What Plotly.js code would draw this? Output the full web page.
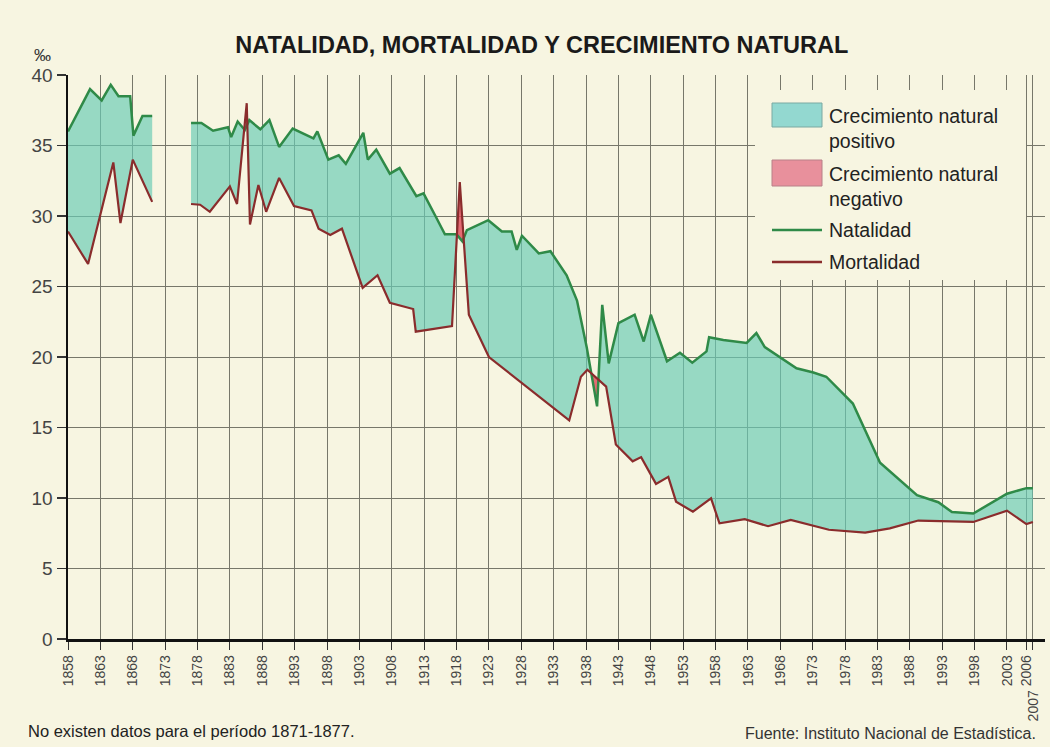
<!DOCTYPE html>
<html>
<head>
<meta charset="utf-8">
<script src="https://cdn.plot.ly/plotly-3.0.1.min.js"></script>
<style>
  html, body { margin: 0; padding: 0; background: #f7f5e1; }
  #chart { width: 1050px; height: 747px; }
</style>
</head>
<body>
<div id="chart"></div>
<script>
// ---- Data (null marks the 1871-1877 gap) ----
const natYears = [1858, 1861.4, 1863.2, 1864.6, 1865.8, 1867.6, 1868.1, 1869.5, 1871,
  1874,
  1877, 1878.6, 1880.4, 1882.7, 1883.2, 1884.2, 1885.3, 1886, 1887.7, 1889.1, 1890.6, 1892.7,
  1895.9, 1896.5, 1898.2, 1899.8, 1900.9, 1903.6, 1904.3, 1905.6, 1907.7, 1909.2, 1911.8, 1912.9,
  1914.8, 1916.2, 1918.0, 1918.9, 1919.6, 1922.9, 1925.0, 1926.5, 1927.3, 1928.1, 1930.7, 1932.5,
  1935.0, 1936.6, 1938.1, 1939.7, 1940.5, 1941.5, 1943.0, 1945.5, 1946.9, 1948.0, 1950.5, 1952.5,
  1954.4, 1956.6, 1957.0, 1959.2, 1962.8, 1964.3, 1965.6, 1967.9, 1970.5, 1973.1, 1975.1, 1979.2,
  1983.4, 1989.1, 1992.4, 1994.5, 1997.8, 2003.0, 2006.0, 2007];
const natalidad = [36.0, 39.0, 38.2, 39.3, 38.5, 38.5, 35.7, 37.1, 37.1,
  null,
  36.6, 36.6, 36.05, 36.3, 35.6, 36.7, 36.1, 36.8, 36.15, 36.8, 34.9, 36.2,
  35.5, 36.0, 34.0, 34.3, 33.7, 35.9, 34.0, 34.7, 33.0, 33.4, 31.4, 31.6,
  29.95, 28.7, 28.7, 28.2, 29.0, 29.7, 28.9, 28.9, 27.6, 28.6, 27.35, 27.5,
  25.8, 24.0, 20.7, 16.5, 23.7, 19.55, 22.4, 23.0, 21.1, 23.0, 19.7, 20.3,
  19.6, 20.4, 21.4, 21.2, 21.0, 21.7, 20.7, 20.0, 19.2, 18.9, 18.6, 16.7,
  12.5, 10.2, 9.7, 9.0, 8.9, 10.3, 10.7, 10.7];

const mortYears = [1858, 1861.1, 1865, 1866.1, 1868, 1871,
  1874,
  1877, 1878.4, 1879.9, 1883, 1884.1, 1885.6, 1886.1, 1887.4, 1888.6, 1890.6, 1892.9,
  1895.6, 1896.7, 1898.5, 1900.3, 1903.5, 1905.8, 1907.7, 1911.3, 1911.7, 1917.3, 1918.5, 1919.9,
  1923, 1935.4, 1937.2, 1938.2, 1941.1, 1942.6, 1945.2, 1946.5, 1948.8, 1950.7, 1951.9, 1954.5,
  1957.3, 1958.6, 1962.5, 1966.1, 1969.6, 1975.5, 1981.1, 1984.9, 1989.3, 1997.8, 2003, 2006, 2007];
const mortalidad = [28.9, 26.6, 33.8, 29.5, 34.0, 31.0,
  null,
  30.85, 30.8, 30.3, 32.1, 30.85, 38.0, 29.4, 32.2, 30.3, 32.7, 30.7,
  30.4, 29.1, 28.65, 29.1, 24.9, 25.8, 23.85, 23.4, 21.8, 22.2, 32.4, 23.0,
  20.0, 15.5, 18.6, 19.1, 17.9, 13.8, 12.6, 12.9, 11.0, 11.5, 9.74, 9.03,
  9.98, 8.2, 8.5, 8.0, 8.45, 7.75, 7.55, 7.85, 8.4, 8.3, 9.1, 8.15, 8.3];

const tickYears = [1858, 1863, 1868, 1873, 1878, 1883, 1888, 1893, 1898, 1903, 1908, 1913, 1918,
  1923, 1928, 1933, 1938, 1943, 1948, 1953, 1958, 1963, 1968, 1973, 1978, 1983, 1988, 1993, 1998,
  2003, 2006, 2007];
const tickLabels = tickYears.map(y => y === 2007 ? '' : String(y));

const seriesNames = ['Crecimiento natural<br>positivo', 'Crecimiento natural<br>negativo', 'Natalidad', 'Mortalidad'];

// ---- Styles ----
const BG = '#f7f5e1';
const TEAL = 'rgba(105,204,182,0.68)';
const TEAL_KEY = '#93d8d0';
const RED = 'rgba(222,60,78,0.75)';
const RED_KEY = '#e8909c';
const GREEN = '#2f8a48';
const DRED = '#8a2c2c';
const GRID = '#77776a';

// ---- Helpers: split series at nulls, interpolate for fill geometry ----
function split(xs, ys) {
  const segs = []; let cur = {x: [], y: []};
  for (let i = 0; i < xs.length; i++) {
    if (ys[i] === null) { if (cur.x.length) segs.push(cur); cur = {x: [], y: []}; }
    else { cur.x.push(xs[i]); cur.y.push(ys[i]); }
  }
  if (cur.x.length) segs.push(cur);
  return segs;
}
function valAt(seg, x) {
  const X = seg.x, Y = seg.y;
  if (x <= X[0]) return Y[0];
  for (let i = 0; i < X.length - 1; i++) {
    if (x >= X[i] && x <= X[i + 1]) {
      const t = (x - X[i]) / (X[i + 1] - X[i]);
      return Y[i] + t * (Y[i + 1] - Y[i]);
    }
  }
  return Y[Y.length - 1];
}

const natSegs = split(natYears, natalidad);
const mortSegs = split(mortYears, mortalidad);
const traces = [];

natSegs.forEach((ns, k) => {
  const ms = mortSegs[k];
  const x0 = Math.max(ns.x[0], ms.x[0]);
  const x1 = Math.min(ns.x[ns.x.length - 1], ms.x[ms.x.length - 1]);
  const grid = [...new Set(ns.x.concat(ms.x))].filter(x => x >= x0 && x <= x1).sort((a, b) => a - b);
  const gx = [], gn = [], gm = [];
  grid.forEach((x, i) => {
    const n = valAt(ns, x), m = valAt(ms, x);
    if (i > 0) {
      const dp = gn[gn.length - 1] - gm[gm.length - 1], d = n - m;
      if (dp * d < 0) {
        const xp = gx[gx.length - 1];
        const xc = xp + dp / (dp - d) * (x - xp);
        const yc = valAt(ns, xc);
        gx.push(xc); gn.push(yc); gm.push(yc);
      }
    }
    gx.push(x); gn.push(n); gm.push(m);
  });
  const top = gn.map((n, i) => Math.max(n, gm[i]));
  traces.push({x: gx, y: gm, mode: 'lines', line: {width: 0}, hoverinfo: 'skip'});
  traces.push({x: gx, y: top, mode: 'lines', line: {width: 0}, fill: 'tonexty', fillcolor: TEAL,
    name: seriesNames[0]});
  traces.push({x: gx, y: gn, mode: 'lines', line: {width: 0}, hoverinfo: 'skip'});
  traces.push({x: gx, y: top, mode: 'lines', line: {width: 0}, fill: 'tonexty', fillcolor: RED,
    name: seriesNames[1]});
});

traces.push({x: natYears, y: natalidad, mode: 'lines', name: seriesNames[2],
  line: {color: GREEN, width: 2.5}, connectgaps: false});
traces.push({x: mortYears, y: mortalidad, mode: 'lines', name: seriesNames[3],
  line: {color: DRED, width: 2.2}, connectgaps: false});

// ---- Key (legend) drawn in paper coordinates ----
const PL = 68, PW = 977, PB = 639, PH = 564;
const px = v => (v - PL) / PW;
const py = v => (PB - v) / PH;
const keyShapes = [
  {type: 'rect', xref: 'paper', yref: 'paper', x0: px(755), x1: px(1026), y0: py(90), y1: py(280),
    fillcolor: BG, line: {width: 0}, layer: 'above'},
  {type: 'rect', xref: 'paper', yref: 'paper', x0: px(772), x1: px(822), y0: py(103), y1: py(127),
    fillcolor: TEAL_KEY, line: {color: '#7aa9a2', width: 1}, layer: 'above'},
  {type: 'rect', xref: 'paper', yref: 'paper', x0: px(772), x1: px(822), y0: py(160), y1: py(186),
    fillcolor: RED_KEY, line: {color: '#b88088', width: 1}, layer: 'above'},
  {type: 'line', xref: 'paper', yref: 'paper', x0: px(772), x1: px(822), y0: py(230), y1: py(230),
    line: {color: GREEN, width: 2.5}, layer: 'above'},
  {type: 'line', xref: 'paper', yref: 'paper', x0: px(772), x1: px(822), y0: py(262), y1: py(262),
    line: {color: DRED, width: 2.5}, layer: 'above'}
];
const keyTexts = [[seriesNames[0], 128], [seriesNames[1], 187], [seriesNames[2], 230], [seriesNames[3], 262]]
  .map(([t, y]) => ({text: t, xref: 'paper', yref: 'paper', x: px(827), y: py(y), xanchor: 'left',
    yanchor: 'middle', align: 'left', showarrow: false, font: {size: 19.5, color: '#222'}}));

const layout = {
  width: 1050, height: 747,
  paper_bgcolor: BG, plot_bgcolor: BG,
  showlegend: false,
  margin: {l: PL, r: 5, t: 75, b: 108},
  font: {family: 'Liberation Sans, Arial, sans-serif', color: '#333'},
  title: {
    text: '<b>NATALIDAD, MORTALIDAD Y CRECIMIENTO NATURAL</b>',
    x: 0.516, xanchor: 'center', y: 0.94, yanchor: 'middle',
    font: {family: 'Liberation Sans, Arial, sans-serif', size: 23.5, color: '#1a1a1a'}
  },
  xaxis: {
    range: [1858, 2008.87], tickmode: 'array', tickvals: tickYears, ticktext: tickLabels,
    tickangle: -90, tickfont: {size: 14, color: '#444'},
    ticks: 'outside', ticklen: 8, tickcolor: '#333', tickwidth: 1,
    showgrid: true, gridcolor: GRID, gridwidth: 1,
    showline: true, linecolor: '#111', linewidth: 2.5, zeroline: false
  },
  yaxis: {
    range: [0, 40], tickvals: [0, 5, 10, 15, 20, 25, 30, 35, 40],
    tickfont: {size: 19, color: '#444'},
    ticks: 'outside', ticklen: 9, tickcolor: '#333', tickwidth: 1.2,
    showgrid: true, gridcolor: GRID, gridwidth: 1,
    showline: true, linecolor: '#111', linewidth: 2.5, zeroline: false
  },
  shapes: keyShapes,
  annotations: keyTexts.concat([
    {text: '‰', xref: 'paper', yref: 'paper', x: px(42), y: py(67), xanchor: 'center', yanchor: 'bottom',
      showarrow: false, font: {size: 17, color: '#333'}},
    {text: '2007', xref: 'x', yref: 'paper', x: 2007, y: py(688), xanchor: 'center', yanchor: 'top',
      textangle: -90, showarrow: false, font: {size: 14, color: '#444'}},
    {text: 'No existen datos para el período 1871-1877.', xref: 'paper', yref: 'paper',
      x: px(26), y: py(731), xanchor: 'left', yanchor: 'middle', showarrow: false,
      font: {size: 16.5, color: '#222'}},
    {text: 'Fuente: Instituto Nacional de Estadística.', xref: 'paper', yref: 'paper',
      x: px(1038), y: py(733), xanchor: 'right', yanchor: 'middle', showarrow: false,
      font: {size: 16, color: '#333'}}
  ])
};

Plotly.newPlot('chart', traces, layout, {displayModeBar: false, staticPlot: true});
</script>
</body>
</html>
